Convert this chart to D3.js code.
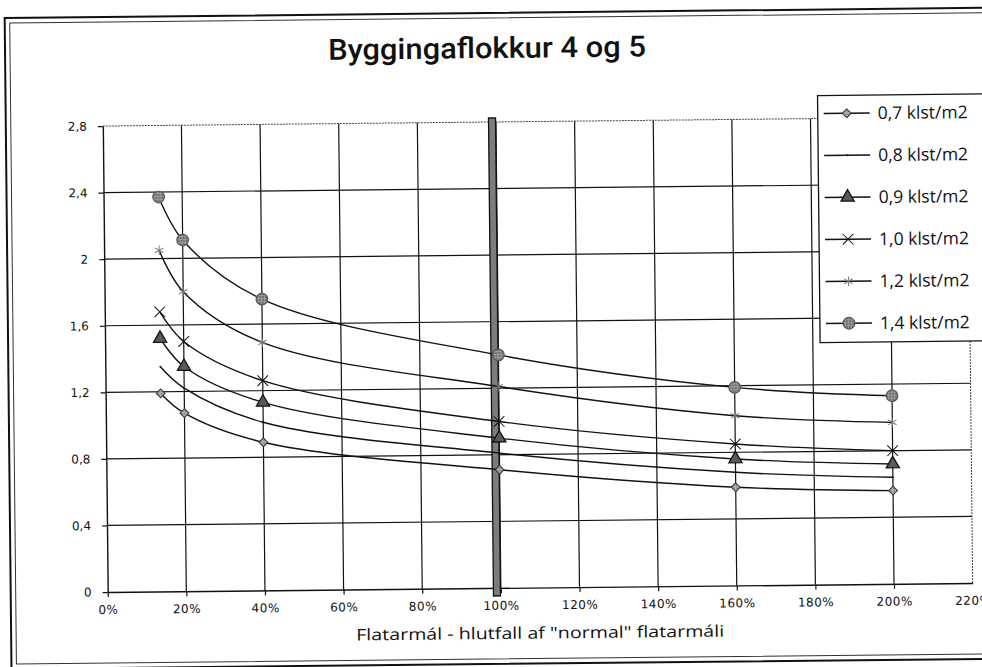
<!DOCTYPE html>
<html>
<head>
<meta charset="utf-8">
<script src="https://cdn.jsdelivr.net/npm/d3@7"></script>
<style>
  body { margin: 0; background: #fff; }
  svg { display: block; }
</style>
</head>
<body>
<svg id="chart" width="982" height="667"></svg>
<script>
var xValues = [0.14, 0.2, 0.4, 1.0, 1.6, 2.0];

var seriesNames = ['0,7 klst/m2', '0,8 klst/m2', '0,9 klst/m2', '1,0 klst/m2', '1,2 klst/m2', '1,4 klst/m2'];
var s07 = [1.19, 1.07, 0.89, 0.71, 0.59, 0.56];
var s08 = [1.35, 1.22, 1.01, 0.81, 0.68, 0.64];
var s09 = [1.52, 1.35, 1.13, 0.90, 0.76, 0.72];
var s10 = [1.68, 1.50, 1.26, 1.00, 0.85, 0.80];
var s12 = [2.05, 1.80, 1.49, 1.21, 1.02, 0.97];
var s14 = [2.37, 2.11, 1.75, 1.40, 1.19, 1.13];
var seriesValues = [s07, s08, s09, s10, s12, s14];
var markerTypes = ['diamond', 'dot', 'triangle', 'times', 'asterisk', 'circle'];

var xTicks = [0, 0.2, 0.4, 0.6, 0.8, 1.0, 1.2, 1.4, 1.6, 1.8, 2.0, 2.2];
var yTicks = [0, 0.4, 0.8, 1.2, 1.6, 2.0, 2.4, 2.8];
var yTickLabels = ['0', '0,4', '0,8', '1,2', '1,6', '2', '2,4', '2,8'];
var normalMark = 0.99;

var titleText = 'Byggingaflokkur 4 og 5';
var xTitleText = 'Flatarmál - hlutfall af "normal" flatarmáli';

var plotLeft = 105, plotRight = 970, plotTop = 122, plotBottom = 588;

var x = d3.scaleLinear().domain([0, 2.2]).range([plotLeft, plotRight]);
var y = d3.scaleLinear().domain([0, 2.8]).range([plotBottom, plotTop]);

var svg = d3.select('#chart');

var defs = svg.append('defs');
function speckle(id, bg, dot) {
  var p = defs.append('pattern').attr('id', id)
    .attr('width', 3).attr('height', 3).attr('patternUnits', 'userSpaceOnUse');
  p.append('rect').attr('width', 3).attr('height', 3).attr('fill', bg);
  p.append('circle').attr('cx', 1).attr('cy', 1).attr('r', 0.8).attr('fill', dot);
}
speckle('speckDark', '#9a9a9a', '#3a3a3a');
speckle('speckLight', '#b4b4b4', '#555');

// the scan is slightly tilted
var root = svg.append('g').attr('transform', 'rotate(-0.6, 491, 333)');

// frame
root.append('rect').attr('x', 8).attr('y', 13).attr('width', 1000).attr('height', 651)
  .attr('fill', 'none').attr('stroke', '#111').attr('stroke-width', 2);
root.append('rect').attr('x', 13).attr('y', 18).attr('width', 990).attr('height', 641)
  .attr('fill', 'none').attr('stroke', '#333').attr('stroke-width', 1);

root.append('text')
  .attr('x', 490).attr('y', 58)
  .attr('text-anchor', 'middle')
  .attr('font-family', 'Roboto, "Liberation Sans Narrow", sans-serif')
  .attr('font-weight', 500)
  .attr('font-size', 29)
  .attr('textLength', 318)
  .attr('lengthAdjust', 'spacingAndGlyphs')
  .attr('fill', '#111')
  .text(titleText);

// grid
var grid = root.append('g');
grid.selectAll('.vgrid')
  .data(xTicks.filter(function (d) { return d > 0 && d < 2.2; }))
  .enter().append('line')
  .attr('x1', function (d) { return x(d); }).attr('x2', function (d) { return x(d); })
  .attr('y1', plotTop).attr('y2', plotBottom)
  .attr('stroke', '#111').attr('stroke-width', 1.2);
grid.selectAll('.hgrid')
  .data(yTicks.filter(function (d) { return d > 0 && d < 2.8; }))
  .enter().append('line')
  .attr('x1', plotLeft).attr('x2', plotRight)
  .attr('y1', function (d) { return y(d); }).attr('y2', function (d) { return y(d); })
  .attr('stroke', '#111').attr('stroke-width', 1.2);
grid.append('path')
  .attr('d', 'M' + plotLeft + ',' + plotTop + 'H' + plotRight + 'V' + plotBottom)
  .attr('fill', 'none').attr('stroke', '#444').attr('stroke-width', 1)
  .attr('stroke-dasharray', '2,1');

// axes
var xAxis = root.append('g')
  .attr('transform', 'translate(0,' + plotBottom + ')')
  .call(d3.axisBottom(x).tickValues(xTicks).tickSize(5).tickSizeOuter(0)
    .tickFormat(function (d) { return Math.round(d * 100) + '%'; }));
var yAxis = root.append('g')
  .attr('transform', 'translate(' + plotLeft + ',0)')
  .call(d3.axisLeft(y).tickValues(yTicks).tickSize(5).tickSizeOuter(0)
    .tickFormat(function (d, i) { return yTickLabels[i]; }));

[xAxis, yAxis].forEach(function (a) {
  a.select('.domain').attr('stroke', '#111').attr('stroke-width', 1.4);
  a.selectAll('.tick line').attr('stroke', '#111').attr('stroke-width', 1.2);
  a.selectAll('.tick text')
    .attr('font-family', '"DejaVu Sans", Verdana, sans-serif')
    .attr('font-size', 12)
    .attr('fill', '#111');
});
xAxis.selectAll('.tick text').attr('dy', '1.15em').attr('letter-spacing', 0.5);
yAxis.selectAll('.tick text').attr('dx', '-8');
xAxis.select('.tick:last-of-type line').remove();

root.append('text')
  .attr('x', 537).attr('y', 639)
  .attr('text-anchor', 'middle')
  .attr('font-family', '"Open Sans", "Noto Sans", sans-serif')
  .attr('font-size', 16)
  .attr('textLength', 368)
  .attr('lengthAdjust', 'spacingAndGlyphs')
  .attr('fill', '#111')
  .text(xTitleText);

// thick mark at "normal" area
root.append('rect')
  .attr('x', x(normalMark) - 3.5).attr('y', plotTop - 4)
  .attr('width', 7).attr('height', plotBottom - plotTop + 12)
  .attr('fill', '#7c7c7c').attr('stroke', '#111').attr('stroke-width', 1.3);

var symbolMap = {
  diamond: { type: d3.symbolDiamond2, size: 50, fill: 'url(#speckLight)', stroke: '#333', sw: 1 },
  dot: { type: d3.symbolCircle, size: 3, fill: '#111', stroke: 'none', sw: 0 },
  triangle: { type: d3.symbolTriangle, size: 75, fill: '#5a5a5a', stroke: '#111', sw: 1.3 },
  times: { type: d3.symbolTimes, size: 75, fill: 'none', stroke: '#111', sw: 1 },
  asterisk: { type: d3.symbolAsterisk, size: 65, fill: 'none', stroke: '#7a7a7a', sw: 1 },
  circle: { type: d3.symbolCircle, size: 105, fill: 'url(#speckDark)', stroke: '#555', sw: 1.2 }
};

function drawMarker(sel, name) {
  var m = symbolMap[name];
  sel.append('path')
    .attr('d', d3.symbol(m.type, m.size))
    .attr('fill', m.fill)
    .attr('stroke', m.stroke)
    .attr('stroke-width', m.sw);
}

var line = d3.line()
  .x(function (d) { return x(d[0]); })
  .y(function (d) { return y(d[1]); })
  .curve(d3.curveCatmullRom.alpha(0.5));

var plot = root.append('g');
seriesValues.forEach(function (vals, i) {
  var pts = vals.map(function (v, j) { return [xValues[j], v]; });
  plot.append('path')
    .attr('d', line(pts))
    .attr('fill', 'none')
    .attr('stroke', '#111')
    .attr('stroke-width', 1.4);
  plot.selectAll('.m' + i)
    .data(pts)
    .enter().append('g')
    .attr('transform', function (d) { return 'translate(' + x(d[0]) + ',' + y(d[1]) + ')'; })
    .each(function () { drawMarker(d3.select(this), markerTypes[i]); });
});

// legend
var legend = root.append('g').attr('transform', 'translate(820,99)');
legend.append('rect')
  .attr('width', 200).attr('height', 247)
  .attr('fill', '#fff').attr('stroke', '#111').attr('stroke-width', 1.3);
var items = legend.selectAll('.item')
  .data(seriesNames)
  .enter().append('g')
  .attr('transform', function (d, i) { return 'translate(0,' + (18 + i * 42) + ')'; });
items.append('line')
  .attr('x1', 6).attr('x2', 52)
  .attr('stroke', '#111').attr('stroke-width', 1.3);
items.append('g')
  .attr('transform', 'translate(29,0)')
  .each(function (d, i) { drawMarker(d3.select(this), markerTypes[i]); });
items.append('text')
  .attr('x', 60).attr('dy', '0.35em')
  .attr('font-family', '"Open Sans", "Noto Sans", sans-serif')
  .attr('font-size', 17.5)
  .attr('fill', '#111')
  .text(function (d) { return d; });
</script>
</body>
</html>
